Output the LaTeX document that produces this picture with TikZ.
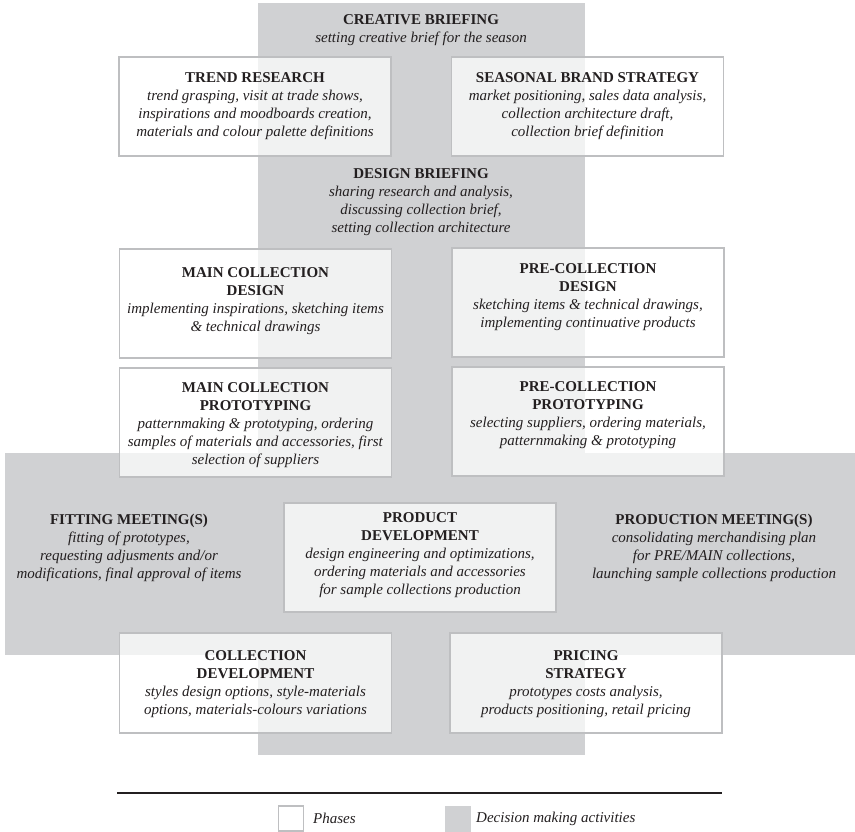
\documentclass[tikz,border=0pt]{standalone}
\usepackage{fontspec}
\setmainfont{Liberation Serif}
\definecolor{band}{HTML}{D0D1D3}
\definecolor{boxline}{HTML}{BEBFC1}
\definecolor{ink}{HTML}{231F20}
\begin{document}
\begin{tikzpicture}[x=1pt,y=-1pt,
  every node/.style={text=ink, inner sep=0pt, font=\fontsize{15}{18}\selectfont},
  phase/.style={draw=boxline, line width=1.3pt, fill=white, fill opacity=0.72,
    draw opacity=1, minimum width=272pt, minimum height=#1},
  phase/.default=109pt,
  body/.style={align=center},
  keytext/.style={anchor=west}]
\useasboundingbox (0,0) rectangle (855,832);

% decision-making bands
\fill[band] (258,3) rectangle (585,755);
\fill[band] (5,453) rectangle (855,655);

% phase boxes
\node[phase=99pt] (trend)    at (255,106.5) {};
\node[phase=99pt] (seasonal) at (587.5,106.5) {};
\node[phase]      (maindes)  at (255.5,303.5) {};
\node[phase]      (predes)   at (588,302.5) {};
\node[phase]      (mainpro)  at (255.5,422.5) {};
\node[phase]      (prepro)   at (588,421.5) {};
\node[phase]      (proddev)  at (420,557.5) {};
\node[phase=100pt] (colldev) at (255.5,683) {};
\node[phase=100pt] (pricing) at (586,683) {};

% decision-making activities
\node[body] (creative) at (421,30) {\textbf{CREATIVE BRIEFING}\\
  \textit{setting creative brief for the season}};
\node[body] (designbr) at (421,202.5) {\textbf{DESIGN BRIEFING}\\
  \textit{sharing research and analysis,}\\
  \textit{discussing collection brief,}\\
  \textit{setting collection architecture}};
\node[body] (fitting) at (129,548) {\textbf{FITTING MEETING(S)}\\
  \textit{fitting of prototypes,}\\
  \textit{requesting adjusments and/or}\\
  \textit{modifications, final approval of items}};
\node[body] (production) at (714,548) {\textbf{PRODUCTION MEETING(S)}\\
  \textit{consolidating merchandising plan}\\
  \textit{for PRE/MAIN collections,}\\
  \textit{launching sample collections production}};

% phase texts
\node[body] (trendtxt) at (trend) {\textbf{TREND RESEARCH}\\
  \textit{trend grasping, visit at trade shows,}\\
  \textit{inspirations and moodboards creation,}\\
  \textit{materials and colour palette definitions}};
\node[body] (seasonaltxt) at (seasonal) {\textbf{SEASONAL BRAND STRATEGY}\\
  \textit{market positioning, sales data analysis,}\\
  \textit{collection architecture draft,}\\
  \textit{collection brief definition}};
\node[body] (maindestxt) at (255.5,301) {\textbf{MAIN COLLECTION}\\
  \textbf{DESIGN}\\
  \textit{implementing inspirations, sketching items}\\
  \textit{\& technical drawings}};
\node[body] (predestxt) at (588,297.5) {\textbf{PRE-COLLECTION}\\
  \textbf{DESIGN}\\
  \textit{sketching items \& technical drawings,}\\
  \textit{implementing continuative products}};
\node[body] (mainprotxt) at (255.5,425) {\textbf{MAIN COLLECTION}\\
  \textbf{PROTOTYPING}\\
  \textit{patternmaking \& prototyping, ordering}\\
  \textit{samples of materials and accessories, first}\\
  \textit{selection of suppliers}};
\node[body] (preprotxt) at (588,415.5) {\textbf{PRE-COLLECTION}\\
  \textbf{PROTOTYPING}\\
  \textit{selecting suppliers, ordering materials,}\\
  \textit{patternmaking \& prototyping}};
\node[body] (proddevtxt) at (420,555.5) {\textbf{PRODUCT}\\
  \textbf{DEVELOPMENT}\\
  \textit{design engineering and optimizations,}\\
  \textit{ordering materials and accessories}\\
  \textit{for sample collections production}};
\node[body] (colldevtxt) at (255.5,684.5) {\textbf{COLLECTION}\\
  \textbf{DEVELOPMENT}\\
  \textit{styles design options, style-materials}\\
  \textit{options, materials-colours variations}};
\node[body] (pricingtxt) at (586,684) {\textbf{PRICING}\\
  \textbf{STRATEGY}\\
  \textit{prototypes costs analysis,}\\
  \textit{products positioning, retail pricing}};

% legend
\coordinate (ruleL) at (117,793);
\coordinate (ruleR) at (722,793);
\draw[ink, line width=2pt] (ruleL) -- (ruleR);
\node[draw=boxline, line width=1.3pt, fill=white, minimum width=25pt, minimum height=25pt]
  (keyphase) at (291,818.5) {};
\node[keytext] (keyphasetxt) at (313,818.5) {\textit{Phases}};
\node[fill=band, minimum width=26pt, minimum height=26pt] (keydecision) at (458,818.5) {};
\node[keytext] (keydecisiontxt) at (476,818.5) {\textit{Decision making activities}};
\end{tikzpicture}
\end{document}
